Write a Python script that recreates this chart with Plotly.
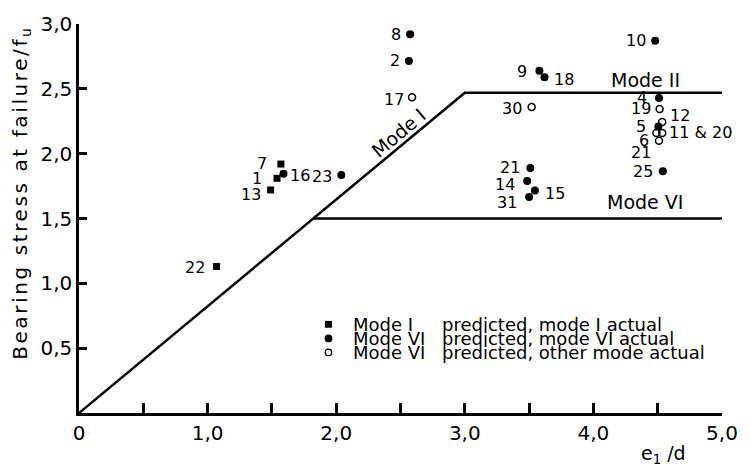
import plotly.graph_objects as go

# ---- data ----
sq_ids = ["7", "1", "13", "22"]
sq_x = [1.57, 1.54, 1.49, 1.07]
sq_y = [1.92, 1.81, 1.72, 1.13]

fill_ids = ["8", "2", "10", "9", "18", "4", "5", "25", "21", "14", "15", "31", "16", "23"]
fill_x = [2.575, 2.565, 4.48, 3.58, 3.62, 4.51, 4.505, 4.54, 3.51, 3.485, 3.545, 3.50, 1.59, 2.04]
fill_y = [2.92, 2.715, 2.87, 2.64, 2.59, 2.43, 2.21, 1.865, 1.89, 1.79, 1.715, 1.665, 1.845, 1.835]

open_ids = ["17", "30", "19", "12", "11", "20", "6"]
open_x = [2.59, 3.52, 4.515, 4.535, 4.49, 4.535, 4.51]
open_y = [2.435, 2.36, 2.345, 2.245, 2.16, 2.16, 2.10]

# limit lines
mode12_x = [0, 3.0, 5.0]
mode12_y = [0, 2.47, 2.47]
mode6_x = [1.82, 5.0]
mode6_y = [1.5, 1.5]

x_ticks = [0, 1.0, 2.0, 3.0, 4.0, 5.0]
x_ticktext = ["0", "1,0", "2,0", "3,0", "4,0", "5,0"]
y_ticks = [0.5, 1.0, 1.5, 2.0, 2.5, 3.0]
y_ticktext = ["0,5", "1,0", "1,5", "2,0", "2,5", "3,0"]

# label placement: (point id, text, side, xshift, yshift)
labels = [
    ("8", "8", "left", -7, 0), ("2", "2", "left", -7, 0), ("17", "17", "left", -6, -2),
    ("10", "10", "left", -7, 0), ("9", "9", "left", -10, -1), ("18", "18", "right", 7, -2),
    ("4", "4", "left", -10, 0), ("19", "19", "left", -7, 0), ("12", "12", "right", 6, 6),
    ("5", "5", "left", -10, 0), ("20", "11 & 20", "right", 5, 0), ("6", "6", "left", -8, 0),
    ("6", "21", "left", -6, -12), ("25", "25", "left", -8, 0), ("21", "21", "left", -8, 0),
    ("14", "14", "left", -10, -4), ("15", "15", "right", 8, -3), ("31", "31", "left", -10, -5),
    ("7", "7", "left", -12, 1), ("1", "1", "left", -13, 0), ("16", "16", "right", 5, -2),
    ("23", "23", "left", -7, -1), ("13", "13", "left", -8, -5), ("22", "22", "left", -10, -1),
    ("30", "30", "left", -8, -2),
]

FONT = "DejaVu Sans"
BLACK = "#000000"

fig = go.Figure()
fig.add_trace(go.Scatter(x=mode12_x, y=mode12_y, mode="lines",
                         line=dict(color=BLACK, width=2.5), showlegend=False, hoverinfo="skip"))
fig.add_trace(go.Scatter(x=mode6_x, y=mode6_y, mode="lines",
                         line=dict(color=BLACK, width=2.5), showlegend=False, hoverinfo="skip"))
fig.add_trace(go.Scatter(x=sq_x, y=sq_y, mode="markers", showlegend=False,
                         marker=dict(symbol="square", size=7, color=BLACK)))
fig.add_trace(go.Scatter(x=fill_x, y=fill_y, mode="markers", showlegend=False,
                         marker=dict(symbol="circle", size=8, color=BLACK)))
fig.add_trace(go.Scatter(x=open_x, y=open_y, mode="markers", showlegend=False,
                         marker=dict(symbol="circle-open", size=7, color=BLACK,
                                     line=dict(width=1.5, color=BLACK))))

pts = {}
for ids, xs, ys in [(sq_ids, sq_x, sq_y), (fill_ids, fill_x, fill_y), (open_ids, open_x, open_y)]:
    for i, xv, yv in zip(ids, xs, ys):
        pts[i] = (xv, yv)

annotations = []
for pid, txt, side, xs, ys in labels:
    px, py = pts[pid]
    annotations.append(dict(x=px, y=py, text=txt, showarrow=False,
                            xanchor="right" if side == "left" else "left",
                            yanchor="middle", xshift=xs, yshift=ys,
                            font=dict(family=FONT, size=16, color=BLACK)))

# mode labels
annotations += [
    dict(x=4.405, y=2.572, text="Mode II", showarrow=False,
         font=dict(family=FONT, size=19, color=BLACK)),
    dict(x=4.405, y=1.63, text="Mode VI", showarrow=False,
         font=dict(family=FONT, size=19, color=BLACK)),
    dict(x=2.483, y=2.158, text="Mode I", showarrow=False, textangle=-40,
         font=dict(family=FONT, size=19, color=BLACK)),
]

# axis titles
annotations += [
    dict(xref="paper", yref="paper", x=-0.0904, y=0.563,
         text='<span style="letter-spacing:2.6px">Bearing stress at failure/f</span><sub>u</sub>',
         showarrow=False, textangle=-90, xanchor="center", yanchor="middle",
         font=dict(family=FONT, size=20, color=BLACK)),
    dict(xref="paper", yref="paper", x=0.909, y=-0.07, text="e<sub>1</sub> /d",
         showarrow=False, xanchor="center", yanchor="top",
         font=dict(family=FONT, size=19, color=BLACK)),
]

# legend (hand drawn)
leg_x0 = 0.4227   # paper x of text column 1
leg_x1 = 0.562    # paper x of text column 2
leg_rows = [0.228, 0.1917, 0.1558]
leg_c1 = ["Mode I", "Mode VI", "Mode VI"]
leg_c2 = ["predicted, mode I actual", "predicted, mode VI actual", "predicted, other mode actual"]
for yr, t1, t2 in zip(leg_rows, leg_c1, leg_c2):
    annotations.append(dict(xref="paper", yref="paper", x=leg_x0, y=yr, text=t1, showarrow=False,
                            xanchor="left", yanchor="middle", font=dict(family=FONT, size=18, color=BLACK)))
    annotations.append(dict(xref="paper", yref="paper", x=leg_x1, y=yr, text=t2, showarrow=False,
                            xanchor="left", yanchor="middle", font=dict(family=FONT, size=18, color=BLACK)))

sym_x = 0.388
shapes = [
    dict(type="rect", xref="paper", yref="paper", x0=sym_x - 0.0054, x1=sym_x + 0.0054,
         y0=leg_rows[0] - 0.0088, y1=leg_rows[0] + 0.0088, fillcolor=BLACK, line=dict(width=0)),
    dict(type="circle", xref="paper", yref="paper", x0=sym_x - 0.0061, x1=sym_x + 0.0061,
         y0=leg_rows[1] - 0.010, y1=leg_rows[1] + 0.010, fillcolor=BLACK, line=dict(width=0)),
    dict(type="circle", xref="paper", yref="paper", x0=sym_x - 0.0050, x1=sym_x + 0.0050,
         y0=leg_rows[2] - 0.0082, y1=leg_rows[2] + 0.0082, line=dict(width=1.3, color=BLACK)),
]

fig.update_layout(
    width=750, height=468,
    margin=dict(l=79, r=18, t=15, b=55),
    paper_bgcolor="white", plot_bgcolor="white",
    font=dict(family=FONT, size=20, color=BLACK),
    showlegend=False,
    annotations=annotations,
    shapes=shapes,
    xaxis=dict(range=[0, 5], showgrid=False, zeroline=False, showline=True, linecolor=BLACK,
               linewidth=2.5, ticks="inside", ticklen=10, tickwidth=2.5, tickcolor=BLACK,
               tickvals=x_ticks, ticktext=x_ticktext, tickfont=dict(family=FONT, size=20),
               minor=dict(ticks="inside", tick0=0, dtick=0.5, ticklen=10, tickwidth=2.5,
                          tickcolor=BLACK, showgrid=False)),
    yaxis=dict(range=[0, 3], showgrid=False, zeroline=False, showline=True, linecolor=BLACK,
               linewidth=2.5, ticks="inside", ticklen=8, tickwidth=2.5, tickcolor=BLACK,
               tickvals=y_ticks, ticktext=y_ticktext, tickfont=dict(family=FONT, size=20)),
)

# remove the default page margin so the 750x468 figure fills the window exactly
fig.write_html("out.html", config={"displayModeBar": False},
               post_script="document.body.style.margin='0';")
